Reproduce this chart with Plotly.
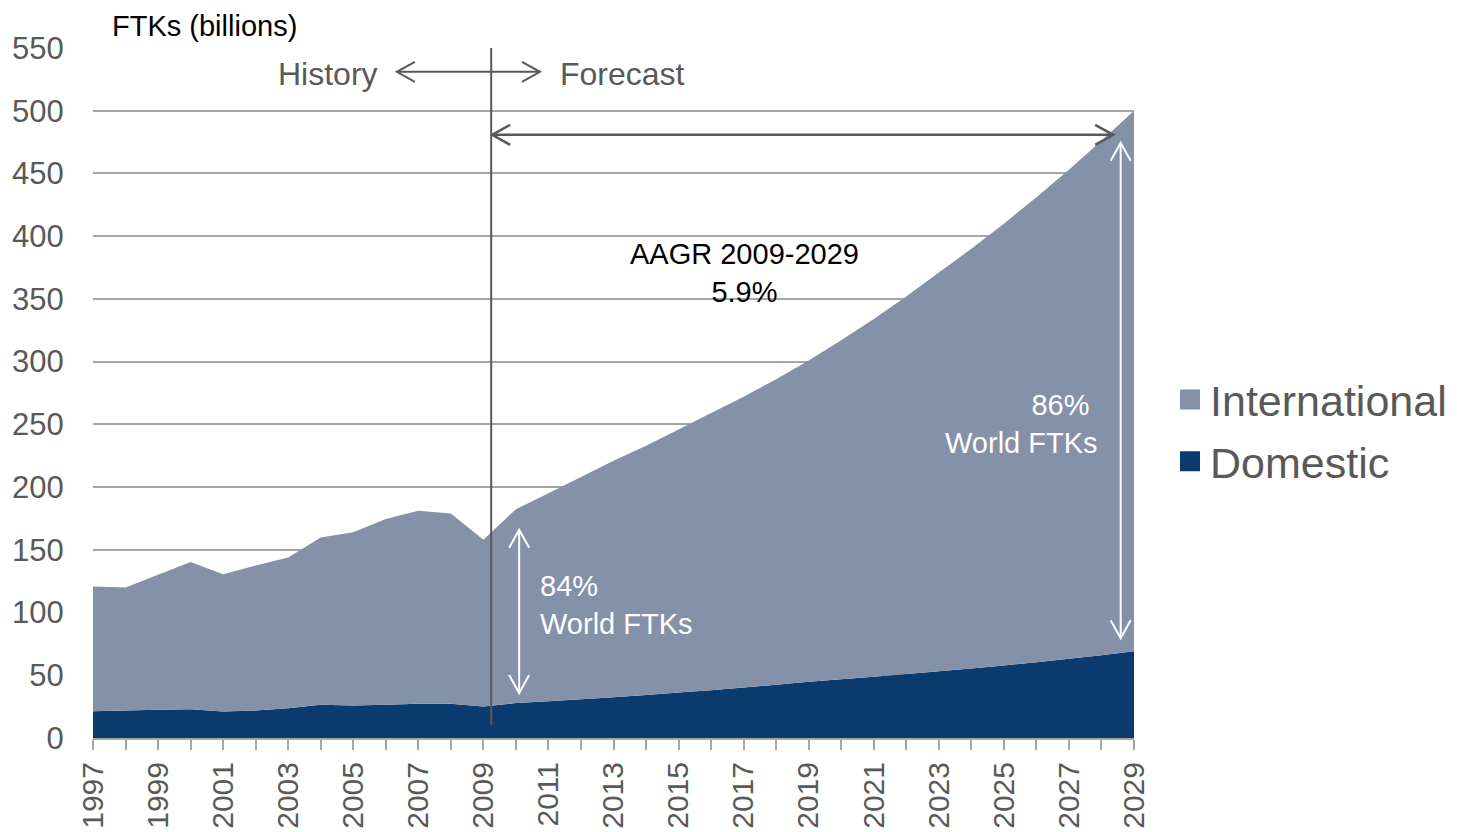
import plotly.graph_objects as go

years = list(range(1997, 2030))
domestic = [21.4, 21.9, 22.5, 23.0, 21.1, 22.0, 23.8, 26.5, 26.0, 26.5, 27.3, 27.3, 25.1,
            27.8, 29.3, 30.8, 32.5, 34.3, 36.2, 38.1, 40.2, 42.4, 44.8, 46.8, 48.9, 51.0,
            53.2, 55.3, 57.8, 60.4, 63.1, 66.0, 69.2]
international = [99.4, 98.1, 107.6, 117.2, 109.5, 115.5, 120.1, 133.3, 138.1, 148.0, 153.8,
                 151.7, 132.9, 154.6, 165.7, 177.2, 188.5, 198.7, 209.8, 220.9, 231.8, 243.6,
                 256.2, 270.2, 285.1, 301.0, 317.8, 334.7, 352.2, 370.6, 389.9, 410.0, 430.8]
y_ticks = [0, 50, 100, 150, 200, 250, 300, 350, 400, 450, 500, 550]
x_ticks = list(range(1997, 2030, 2))

C_INT = "#8591a9"
C_DOM = "#0b3a6e"
GRAY = "#595959"
FONT = "Liberation Sans, Arial, sans-serif"

# figure sits at an 8px page offset, so size it to fit the window
W, H = 1449, 824
ML, MR, MT, MB = 85, 323, 40, 94
PX_PER_YEAR = (W - ML - MR) / (years[-1] - years[0])
PX_PER_UNIT = (H - MT - MB) / 550.0
PLOT_H = H - MT - MB

fig = go.Figure()
fig.add_trace(go.Scatter(x=years, y=domestic, name="Domestic", stackgroup="one",
                         mode="none", fillcolor=C_DOM, line=dict(width=0),
                         showlegend=False))
fig.add_trace(go.Scatter(x=years, y=international, name="International", stackgroup="one",
                         mode="none", fillcolor=C_INT, line=dict(width=0),
                         showlegend=False))
# legend entries (square swatches)
fig.add_trace(go.Scatter(x=[None], y=[None], name="Domestic", mode="markers",
                         legendgroup="d", legendrank=2,
                         marker=dict(symbol="square", size=16, color=C_DOM,
                                     line=dict(color=C_DOM, width=4))))
fig.add_trace(go.Scatter(x=[None], y=[None], name="International", mode="markers",
                         legendgroup="i", legendrank=1,
                         marker=dict(symbol="square", size=16, color=C_INT,
                                     line=dict(color=C_INT, width=4))))

shapes = []


def line(x0, y0, x1, y1, color, width):
    shapes.append(dict(type="line", xref="x", yref="y", x0=x0, y0=y0, x1=x1, y1=y1,
                       line=dict(color=color, width=width), layer="above"))


def head(x, y, direction, color, width, along=18, across=10):
    # open chevron head with tip at (x, y)
    if direction in ("left", "right"):
        s = 1 if direction == "left" else -1
        dx = s * along / PX_PER_YEAR
        dy = across / PX_PER_UNIT
        p = f"M {x+dx},{y+dy} L {x},{y} L {x+dx},{y-dy}"
    else:
        s = -1 if direction == "up" else 1
        dx = across / PX_PER_YEAR
        dy = s * along / PX_PER_UNIT
        p = f"M {x-dx},{y+dy} L {x},{y} L {x+dx},{y+dy}"
    shapes.append(dict(type="path", xref="x", yref="y", path=p,
                       line=dict(color=color, width=width), layer="above"))


def harrow(x0, x1, y, color, width):
    line(x0, y, x1, y, color, width)
    head(x0, y, "left", color, width)
    head(x1, y, "right", color, width)


def varrow(x, y0, y1, color, width):
    line(x, y0, x, y1, color, width)
    head(x, y1, "up", color, width)
    head(x, y0, "down", color, width)


# history / forecast divider
line(2009.24, 10.5, 2009.24, 550, GRAY, 2)
harrow(2006.34, 2010.74, 531, GRAY, 2)
# AAGR arrow
harrow(2009.27, 2028.36, 480.8, GRAY, 2.5)
# share arrows
varrow(2010.1, 35.8, 166, "white", 2)
varrow(2028.59, 79.6, 474.5, "white", 2)

annotations = [
    dict(text="FTKs (billions)", xref="paper", yref="paper", x=0.0163,
         y=1 + MT / PLOT_H, xanchor="left", yanchor="top", showarrow=False,
         font=dict(size=29, color="black", family=FONT)),
    dict(text="History", xref="x", yref="y", x=2005.82, y=529.5, xanchor="right",
         yanchor="middle", showarrow=False, font=dict(size=32, color=GRAY, family=FONT)),
    dict(text="Forecast", xref="x", yref="y", x=2011.3, y=529.5, xanchor="left",
         yanchor="middle", showarrow=False, font=dict(size=32, color=GRAY, family=FONT)),
    dict(text="AAGR 2009-2029<br>5.9%", xref="x", yref="y", x=2017.03, y=370.5,
         xanchor="center", yanchor="middle", align="center", showarrow=False,
         font=dict(size=29, color="black", family=FONT)),
    dict(text="84%<br>World FTKs", xref="x", yref="y", x=2010.67, y=105.8,
         xanchor="left", yanchor="middle", align="left", showarrow=False,
         font=dict(size=29, color="white", family=FONT)),
    dict(text="86%\u00a0<br>World FTKs", xref="x", yref="y", x=2027.95, y=250.0,
         xanchor="right", yanchor="middle", align="right", showarrow=False,
         font=dict(size=29, color="white", family=FONT)),
]

fig.update_layout(
    width=W, height=H,
    margin=dict(l=ML, r=MR, t=MT, b=MB, pad=0, autoexpand=False),
    paper_bgcolor="white", plot_bgcolor="white",
    font=dict(family=FONT, color=GRAY),
    shapes=shapes, annotations=annotations,
    showlegend=True,
    legend=dict(x=1.0346, y=0.5406, xanchor="left", yanchor="top",
                font=dict(size=43, color=GRAY, family=FONT), itemsizing="trace",
                itemwidth=30, bgcolor="rgba(0,0,0,0)", tracegroupgap=3),
    hovermode=False,
)
fig.update_xaxes(range=[years[0], years[-1]], tickmode="array", tickvals=x_ticks,
                 ticktext=[str(v) for v in x_ticks], tickangle=-90, automargin=False,
                 tickfont=dict(size=30, color=GRAY, family=FONT),
                 showgrid=False, showline=True, linecolor="#a6a6a6", linewidth=2,
                 ticks="outside", ticklen=10, tickcolor="#a6a6a6", tickwidth=1.5,
                 minor=dict(dtick=1, tick0=1997, ticks="outside", ticklen=10,
                            tickcolor="#a6a6a6", tickwidth=1.5, showgrid=False),
                 zeroline=False)
fig.update_yaxes(range=[0, 550], tickmode="array", tickvals=y_ticks, automargin=False,
                 tickfont=dict(size=31, color=GRAY, family=FONT),
                 showgrid=True, gridcolor="#a6a6a6", gridwidth=2, showline=False,
                 ticks="outside", ticklen=22, tickcolor="rgba(0,0,0,0)", zeroline=False)

fig.write_html("out.html")
